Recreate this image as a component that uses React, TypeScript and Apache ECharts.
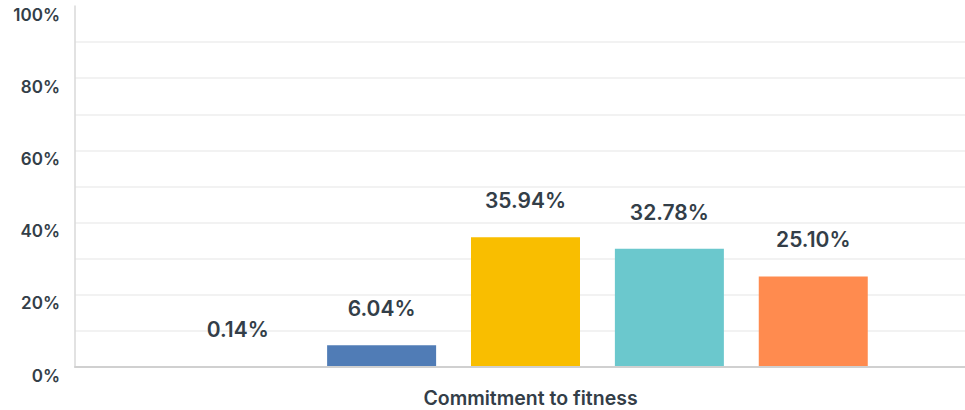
import React, { useEffect, useRef } from "react";
import * as echarts from "echarts";

const categories = ["Commitment to fitness"];
const seriesNames = ["Option 1", "Option 2", "Option 3", "Option 4", "Option 5"];
const seriesValues = [0.14, 6.04, 35.94, 32.78, 25.1];
const seriesColors = ["#00BF6F", "#507CB6", "#F9BE00", "#6BC8CD", "#FF8B4F"];
const yTicks = [0, 10, 20, 30, 40, 50, 60, 70, 80, 90, 100];

const FONT = "Inter, 'Noto Sans', sans-serif";
const TEXT = "#333e48";

export default function App() {
  const ref = useRef<HTMLDivElement>(null);
  useEffect(() => {
    if (!ref.current) return;
    const chart = echarts.init(ref.current, undefined, { renderer: "svg" });
    const splitColors = yTicks.map((t) => (t === 100 ? "rgba(0,0,0,0)" : "#eeeeee"));
    chart.setOption({
      animation: false,
      grid: { left: 75, top: 6, bottom: 43, right: 0, containLabel: false },
      xAxis: {
        type: "category",
        data: categories,
        z: 5,
        axisLine: { show: true, lineStyle: { color: "#d0d0d0", width: 2 } },
        axisTick: { show: false },
        axisLabel: {
          margin: 21,
          padding: [0, 0, 0, 10],
          color: TEXT,
          fontFamily: FONT,
          fontSize: 19.5,
          fontWeight: 600,
        },
      },
      yAxis: {
        type: "value",
        min: 0,
        max: 100,
        interval: 10,
        axisLine: { show: true, lineStyle: { color: "#d9d9d9", width: 1.5 } },
        axisTick: { show: false },
        splitLine: { show: true, lineStyle: { color: splitColors, width: 1.5 } },
        axisLabel: {
          margin: 15,
          verticalAlign: "top",
          color: TEXT,
          fontFamily: FONT,
          fontSize: 17,
          fontWeight: 600,
          formatter: (v: number) => (v % 20 === 0 ? v + "%" : ""),
        },
      },
      series: seriesNames.map((name, i) => ({
        name,
        type: "bar",
        data: [seriesValues[i]],
        barWidth: 109,
        barGap: "32%",
        itemStyle: { color: seriesColors[i] },
        label: {
          show: true,
          position: "top",
          distance: 26,
          color: TEXT,
          fontFamily: FONT,
          fontSize: 21,
          fontWeight: 600,
          formatter: (p: any) => Number(p.value).toFixed(2) + "%",
        },
      })),
    });
    return () => chart.dispose();
  }, []);
  return (
    <div
      style={{
        position: "absolute",
        left: 0,
        top: 0,
        width: 965,
        height: 410,
        overflow: "hidden",
      }}
    >
      <div ref={ref} style={{ width: 976, height: 410 }} />
    </div>
  );
}
